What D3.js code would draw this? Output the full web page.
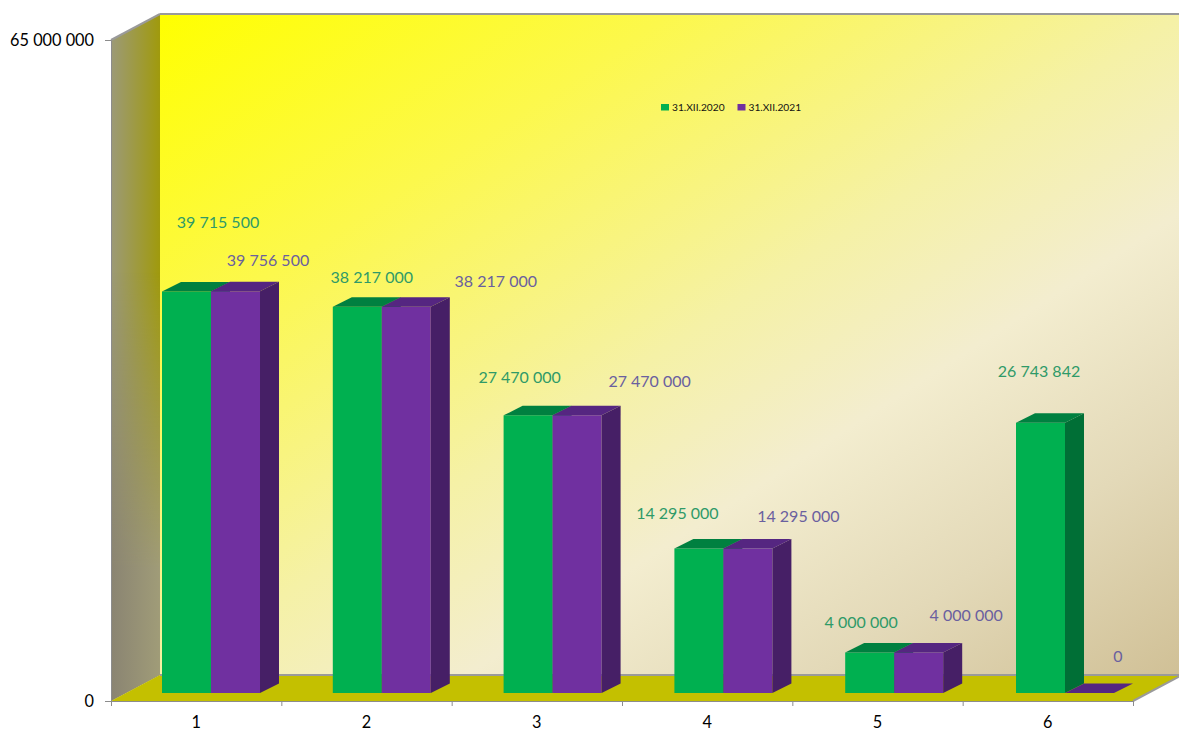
<!DOCTYPE html>
<html>
<head>
<meta charset="utf-8">
<script src="https://cdnjs.cloudflare.com/ajax/libs/d3/7.8.5/d3.min.js"></script>
<style>
  html, body { margin: 0; padding: 0; background: #fff; overflow: hidden; }
  svg { display: block; }
  text { font-family: Lato, "Noto Sans", sans-serif; }
</style>
</head>
<body>
<svg class="chart" width="1179" height="729"></svg>
<script>
var categories = ["1", "2", "3", "4", "5", "6"];
var seriesNames = ["31.XII.2020", "31.XII.2021"];
var values2020 = [39715500, 38217000, 27470000, 14295000, 4000000, 26743842];
var values2021 = [39756500, 38217000, 27470000, 14295000, 4000000, 0];
var yTicks = [0, 65000000];

// label offsets from the group's left edge and the bar top, they sit wherever the original put them
var labelOffset2020 = [[56, -69], [39, -29], [16, -38], [3, -35], [16, -30], [23, -51]];
var labelOffset2021 = [[106, -31], [163, -25], [146, -34], [124, -32], [121, -37], [102, -37]];

var svg = d3.select("svg.chart"),
    left = 111, right = 1133,
    axisBottom = 701, axisTop = 40,
    depthX = 49, depthY = -26,
    barDepthX = 19, barDepthY = -9.5,
    barBase = 693, barScaleHeight = 657,
    barWidth = 49;

var fmt = d3.formatLocale({ thousands: " ", grouping: [3], decimal: ",", currency: ["", ""] }).format(",d");

var x = d3.scaleBand().domain(categories).range([left, right]);
var xBars = d3.scaleBand().domain(categories).range([162, 162 + 6 * 170.8]);
var xEdges = d3.scaleLinear().domain([0, categories.length]).range([left, right]);
var yAxisScale = d3.scaleLinear().domain([0, 65000000]).range([axisBottom, axisTop]);
var y = d3.scaleLinear().domain([0, 65000000]).range([barBase, barBase - barScaleHeight]);

var defs = svg.append("defs");

function gradient(id, x1, y1, x2, y2, stops, units) {
  var g = defs.append("linearGradient").attr("id", id)
    .attr("gradientUnits", units || "userSpaceOnUse")
    .attr("x1", x1).attr("y1", y1).attr("x2", x2).attr("y2", y2);
  stops.forEach(function(s) {
    g.append("stop").attr("offset", s[0]).attr("stop-color", s[1]);
  });
}

gradient("wallFill", 0, 0, 1, 1, [
  [0, "#ffff00"], [0.25, "#fcf84c"], [0.5, "#f5f1a6"], [0.65, "#f3edcf"], [0.82, "#e3d9b8"], [1, "#d0c096"]
], "objectBoundingBox");
gradient("sideTop", left, 0, left + depthX, 0, [[0, "#9c9a78"], [1, "#a09a0c"]]);
gradient("sideBottom", left, 0, left + depthX, 0, [[0, "#8a8472"], [1, "#a09c78"]]);

function poly(points, fill, stroke) {
  return svg.append("polygon")
    .attr("points", points.map(function(p) { return p.join(","); }).join(" "))
    .attr("fill", fill)
    .attr("stroke", stroke || "none");
}

// back wall
poly([[left + depthX, axisTop + depthY], [1182, axisTop + depthY], [1182, axisBottom + depthY], [left + depthX, axisBottom + depthY]], "url(#wallFill)");

// side wall, two gradient layers faded into each other
gradient("sideMask", 0, axisTop, 0, axisBottom, [[0, "#000"], [0.35, "#000"], [0.8, "#fff"], [1, "#fff"]]);
defs.append("mask").attr("id", "sideFade").attr("maskUnits", "userSpaceOnUse")
  .attr("x", 0).attr("y", 0).attr("width", 1179).attr("height", 729)
  .append("rect").attr("width", 1179).attr("height", 729).attr("fill", "url(#sideMask)");

var sidePoints = [[left, axisTop], [left + depthX, axisTop + depthY], [left + depthX, axisBottom + depthY], [left, axisBottom]];
poly(sidePoints, "url(#sideTop)");
poly(sidePoints, "url(#sideBottom)").attr("mask", "url(#sideFade)");

// floor
poly([[left, axisBottom], [left + depthX, axisBottom + depthY], [1182, axisBottom + depthY], [right, axisBottom]], "#c4c000");

// edges around the walls
var edges = [
  [[left, axisTop], [left + depthX, axisTop + depthY]],
  [[left + depthX, axisTop + depthY], [1179, axisTop + depthY]],
  [[left + depthX, axisBottom + depthY], [1179, axisBottom + depthY]],
  [[right, axisBottom], [1179, axisBottom + (1179 - right) * depthY / depthX]]
];
svg.append("g").selectAll("path").data(edges).enter().append("path")
  .attr("d", d3.line())
  .attr("fill", "none")
  .attr("stroke", "#9a9a9a")
  .attr("stroke-width", 2);

// axes
var yAxis = svg.append("g")
  .attr("transform", "translate(" + left + ",0)")
  .call(d3.axisLeft(yAxisScale).tickValues(yTicks).tickFormat(fmt).tickSize(6).tickPadding(11));
yAxis.selectAll("text").attr("font-size", 16.3).attr("fill", "#000");

var xTicks = svg.append("g")
  .attr("transform", "translate(0," + axisBottom + ")")
  .call(d3.axisBottom(xEdges).ticks(categories.length).tickFormat("").tickSize(5));

var xAxis = svg.append("g")
  .attr("transform", "translate(0," + axisBottom + ")")
  .call(d3.axisBottom(x).tickSize(0).tickPadding(15));
xAxis.selectAll("text").attr("font-size", 16.3).attr("fill", "#000");
xAxis.select(".domain").remove();

[yAxis, xTicks].forEach(function(a) {
  a.selectAll(".domain, line").attr("stroke", "#8c8c8c");
});

// bars
function bar3d(xPos, value, front, top, side) {
  var t = y(value);
  if (value > 0) {
    poly([[xPos, t], [xPos + barWidth, t], [xPos + barWidth, barBase], [xPos, barBase]], front);
  }
  poly([[xPos, t], [xPos + barWidth, t], [xPos + barWidth + barDepthX, t + barDepthY], [xPos + barDepthX, t + barDepthY]], top);
  if (value > 0) {
    poly([[xPos + barWidth, t], [xPos + barWidth + barDepthX, t + barDepthY], [xPos + barWidth + barDepthX, barBase + barDepthY], [xPos + barWidth, barBase]], side);
  }
}

categories.forEach(function(c, i) {
  var x0 = xBars(c);
  bar3d(x0, values2020[i], "#00b050", "#008040", "#006f36");
  bar3d(x0 + barWidth, values2021[i], "#7030a0", "#552681", "#461f66");
});

// data labels
function addLabels(values, offsets, color) {
  svg.append("g").selectAll("text").data(values).enter().append("text")
    .attr("x", function(d, i) { return xBars(categories[i]) + offsets[i][0]; })
    .attr("y", function(d, i) { return y(d) + offsets[i][1]; })
    .attr("text-anchor", "middle")
    .attr("dy", "0.35em")
    .attr("font-size", 16)
    .attr("fill", color)
    .text(function(d) { return fmt(d); });
}
addLabels(values2020, labelOffset2020, "#2f9a68");
addLabels(values2021, labelOffset2021, "#6a609f");

// legend
var legend = svg.append("g").selectAll("g").data(seriesNames).enter().append("g")
  .attr("transform", function(d, i) { return "translate(" + (661 + i * 76.5) + ",104)"; });
legend.append("rect").attr("width", 8).attr("height", 6.5)
  .attr("fill", function(d, i) { return i == 0 ? "#00b050" : "#7030a0"; });
legend.append("text").attr("x", 11).attr("y", 7)
  .attr("font-size", 10.2).attr("fill", "#111")
  .text(function(d) { return d; });
</script>
</body>
</html>
